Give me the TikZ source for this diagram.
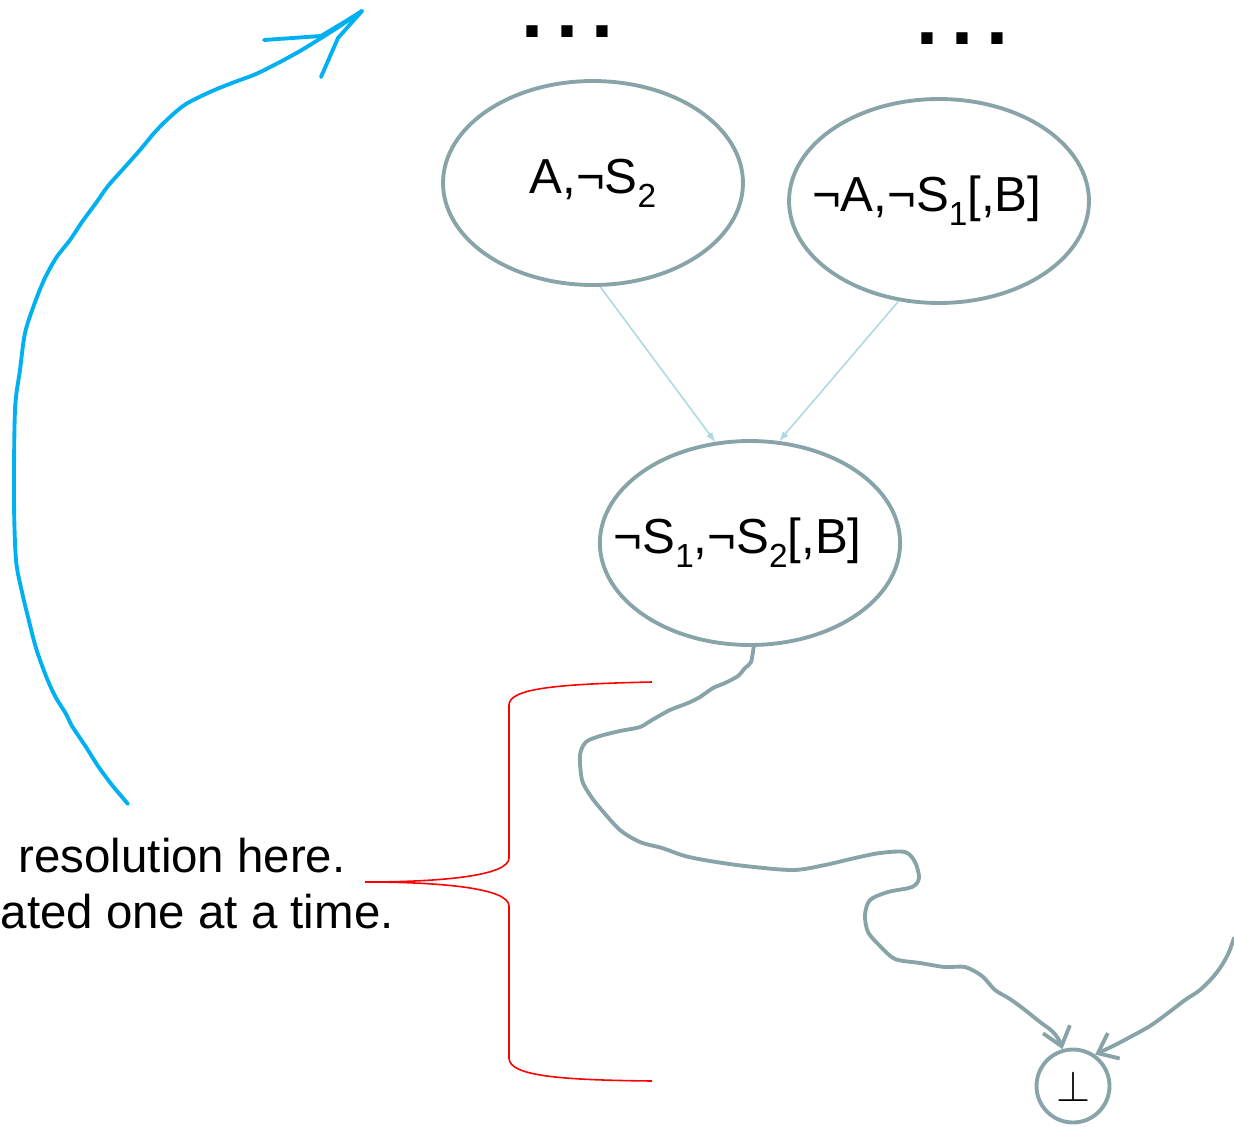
\documentclass[tikz,border=0pt]{standalone}
\usepackage{fontspec}
\setmainfont{Liberation Sans}
\usetikzlibrary{shapes,positioning,arrows.meta}

\definecolor{nodegray}{HTML}{88A4A8}
\definecolor{hintblue}{HTML}{ADDAE2}
\definecolor{penblue}{HTML}{00B0F0}
\newcommand{\lowidx}[1]{\raisebox{-8pt}{\fontsize{19}{20}\selectfont #1}}

\begin{document}
\begin{tikzpicture}[x=0.02cm,y=-0.02cm,
  clause/.style={ellipse, draw=nodegray, line width=2.2pt, minimum width=6cm, minimum height=4.08cm, inner xsep=-0.6cm, inner ysep=0pt, font=\fontsize{28}{32}\selectfont},
  falsum/.style={circle, draw=nodegray, line width=2.2pt, minimum size=1.46cm, inner sep=0pt, font=\fontsize{32}{34}\selectfont},
  etc/.style={inner sep=0pt, anchor=base west, font=\fontsize{45}{48}\selectfont\bfseries},
  remark/.style={inner sep=0pt, anchor=base east, font=\fontsize{27}{32}\selectfont},
  wire/.style={draw=nodegray, line width=2.2pt, line cap=round, line join=round},
  pen/.style={draw=penblue, line width=2.2pt, line cap=round, line join=round},
  brace/.style={draw=red, line width=0.9pt}]
  \useasboundingbox (0,0) rectangle (1234,1126);

  % CLAUSULAS
  \node [clause] (pos) at (593,183) {A,\textlnot S\lowidx{2}};
  \node [clause] (neg) at (939,201) {\textlnot A,\textlnot S\lowidx{1}[,B]\kern14pt\relax};
  \node [clause] (res) at (750,543) {\textlnot S\lowidx{1},\textlnot S\lowidx{2}[,B]\kern14pt\relax};
  \node [falsum] (bot) at (1073,1086) {$\bot$};

  \node [etc] (posdots) at (521,37) {.\hspace{7.6pt}.\hspace{7.6pt}.};
  \node [etc] (negdots) at (916,44) {.\hspace{7.6pt}.\hspace{7.6pt}.};

  % RESOLUCION
  \draw[-latex, draw=hintblue, line width=0.9pt] (pos.-86) -- (res.109);
  \draw[-latex, draw=hintblue, line width=0.9pt] (neg.-112) -- (res.74);

  % CAMINO A LA CONTRADICCION
  \draw[wire, -{Straight Barb[length=10pt,width=16pt]}] plot[smooth, tension=0.5] coordinates {(res.-88) (751,662) (745,668) (738,676) (725,683) (713,688)
    (700,697) (688,703) (670,710) (652,720) (640,727) (620,731) (600,736) (586,742) (580,755) (582,780) (590,795)
    (600,808) (620,830) (640,842) (662,848) (685,856) (710,861) (745,866) (793,870) (825,865) (855,858) (880,853)
    (905,852) (915,862) (919,878) (912,887) (888,892) (870,900) (865,915) (868,932) (880,946) (895,959) (920,963)
    (945,967) (965,967) (982,976) (995,990) (1010,999) (1025,1010) (1040,1022) (1052,1031) (1059,1040) (bot.106)};
  \coordinate (offright) at (1234,938);
  \draw[wire, -{Straight Barb[length=10pt,width=16pt]}] plot[smooth, tension=0.5] coordinates {(offright) (1229,952) (1222,965) (1213,977)
    (1200,990) (1185,1000) (1168,1013) (1150,1026) (1132,1036) (1115,1045) (bot.55)};

  % TEXTO
  \node [remark] (line1) at (346,872) {resolution here.};
  \node [remark] (line2) at (394,928) {ated one at a time.};

  \draw[brace] (652,682) .. controls (560,684) and (509,688) .. (509,705) -- (509,858)
    .. controls (509,876) and (440,882) .. (365,882)
    .. controls (440,882) and (509,888) .. (509,906) -- (509,1058)
    .. controls (509,1076) and (560,1080) .. (652,1081);

  % FLECHA A MANO
  \coordinate (pentip) at (362,11);
  \draw[pen] plot[smooth, tension=0.5] coordinates {(128,804) (112,785) (98,766) (86,747) (72,726) (66,714) (55,696) (46,676)
    (36,648) (28,617) (22,592) (16,560) (14,500) (15,410) (20,370) (25,333) (34,305) (44,280) (56,258) (70,240)
    (82,222) (96,203) (108,186) (124,168) (140,150) (155,132) (170,117) (186,104) (210,92) (232,83) (256,74)
    (280,62) (300,51) (318,40) (340,26) (pentip)};
  \draw[pen] (pentip) -- (346,21) -- (321,36) -- (264,40);
  \draw[pen] (pentip) -- (338,38) -- (321,77);
\end{tikzpicture}
\end{document}
